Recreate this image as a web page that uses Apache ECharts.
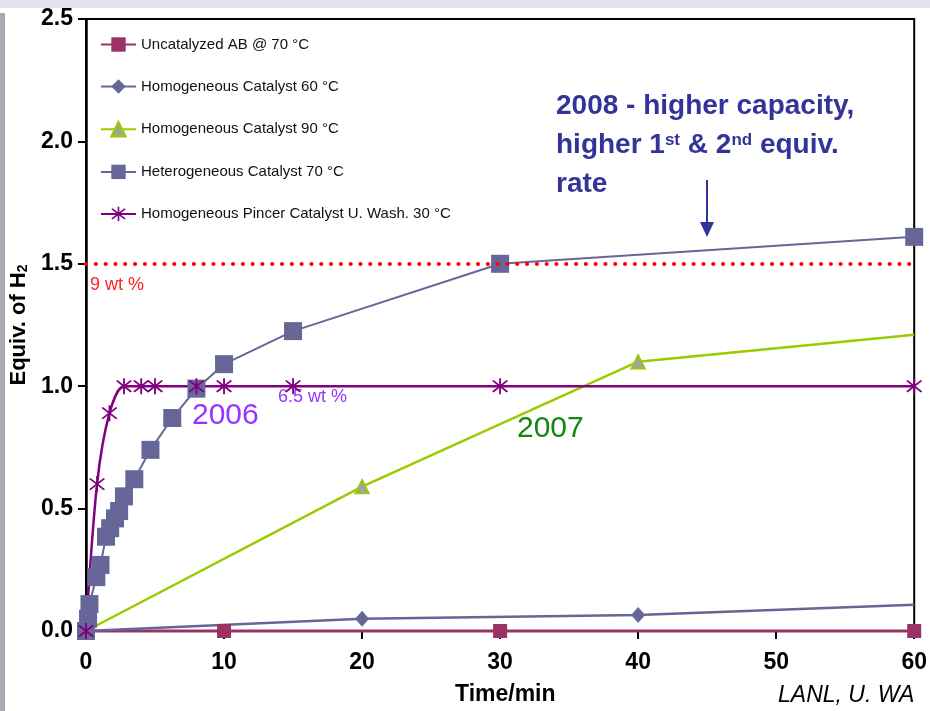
<!DOCTYPE html>
<html>
<head>
<meta charset="utf-8">
<script src="https://cdn.jsdelivr.net/npm/echarts@6/dist/echarts.min.js"></script>
<style>
html,body{margin:0;padding:0;background:#fff;}
#chart{width:930px;height:711px;}
</style>
</head>
<body>
<div id="chart"></div>
<script>
// ---- data ----
const seriesNames = [
  'Uncatalyzed AB @ 70 °C',
  'Homogeneous Catalyst 60 °C',
  'Homogeneous Catalyst 90 °C',
  'Heterogeneous Catalyst 70 °C',
  'Homogeneous Pincer Catalyst U. Wash. 30 °C'
];
const uncatalyzed70 = [[0,0],[10,0],[30,0],[60,0]];
const homog60 = [[0,0],[20,0.05],[40,0.065],[60,0.107]];
const homog90 = [[0,0],[20,0.59],[40,1.10],[60,1.21]];
const hetero70 = [[0,0],[0.15,0.05],[0.25,0.11],[0.75,0.22],[1.05,0.27],[1.45,0.385],[1.75,0.42],[2.1,0.46],[2.4,0.49],[2.75,0.55],[3.5,0.62],[4.67,0.74],[6.25,0.87],[8.0,0.99],[10,1.09],[15,1.225],[30,1.50],[60,1.61]];
const pincer30 = [[0,0],[0.8,0.6],[1.7,0.89],[2.75,1.0],[4,1.0],[5,1.0],[8,1.0],[10,1.0],[15,1.0],[30,1.0],[60,1.0]];
const xTicks = [0,10,20,30,40,50,60];
const yTicks = [0,0.5,1.0,1.5,2.0,2.5];
const capacityLine9wt = 1.5;

const asterisk = 'path://M9.1 0L10.9 0L10.9 20L9.1 20Z M2.22 3.64L3.64 2.22L17.78 16.36L16.36 17.78Z M16.36 2.22L17.78 3.64L3.64 17.78L2.22 16.36Z';
const narrow = "'Liberation Sans Narrow','Arial Narrow','Liberation Sans',Arial,sans-serif";
const sans = "'Liberation Sans',Arial,sans-serif";

function hideLast(arr){
  return arr.map((p,i)=> i===arr.length-1 ? {value:p, symbolSize:0} : p);
}

const chart = echarts.init(document.getElementById('chart'));
const option = {
  backgroundColor:'#ffffff',
  animation:false,
  grid:{left:86, top:19, right:9, bottom:80, show:true, borderColor:'#000', borderWidth:2, backgroundColor:'transparent'},
  legend:{
    left:95, top:32, orient:'vertical', itemWidth:35, itemHeight:18, itemGap:27,
    textStyle:{fontFamily:narrow, fontSize:15, color:'#111'},
    data: seriesNames
  },
  xAxis:{
    type:'value', min:xTicks[0], max:xTicks[xTicks.length-1], interval:10,
    axisLine:{show:true, lineStyle:{color:'#000', width:2}},
    axisTick:{show:true, length:8, lineStyle:{color:'#000', width:2}},
    axisLabel:{margin:20, fontFamily:narrow, fontWeight:'bold', fontSize:23, color:'#000'},
    splitLine:{show:false}
  },
  yAxis:{
    type:'value', min:yTicks[0], max:yTicks[yTicks.length-1], interval:0.5,
    axisLine:{show:true, lineStyle:{color:'#000', width:2.5}},
    axisTick:{show:true, length:8, lineStyle:{color:'#000', width:2}},
    axisLabel:{margin:13, fontFamily:sans, fontWeight:'bold', fontSize:23, color:'#000', formatter:v=>v.toFixed(1)},
    splitLine:{show:false}
  },
  series:[
    {name:seriesNames[0], type:'line', data:uncatalyzed70, symbol:'rect', symbolSize:14, clip:false,
     itemStyle:{color:'#993366'}, lineStyle:{color:'#993366', width:3}},
    {name:seriesNames[1], type:'line', data:hideLast(homog60), symbol:'diamond', symbolSize:[14,16], clip:false,
     itemStyle:{color:'#666699'}, lineStyle:{color:'#666699', width:2.5}},
    {name:seriesNames[2], type:'line', data:hideLast(homog90), symbol:'triangle', symbolSize:14, clip:false,
     itemStyle:{color:'#a3a78a', borderColor:'#99cc00', borderWidth:1.5}, lineStyle:{color:'#99cc00', width:2.5}},
    {name:seriesNames[3], type:'line', data:hetero70, symbol:'rect', symbolSize:18, clip:false,
     itemStyle:{color:'#666699'}, lineStyle:{color:'#666699', width:2},
     markLine:{silent:true, symbol:'none', animation:false,
       label:{show:false},
       lineStyle:{color:'#ff0000', type:[0.1,9.7], cap:'round', width:4},
       data:[{yAxis:capacityLine9wt}]}},
    {name:seriesNames[4], type:'line', data:pincer30, symbol:asterisk, symbolSize:16, smooth:0.3, clip:false,
     itemStyle:{color:'#800080'}, lineStyle:{color:'#800080', width:2.5}}
  ],
  graphic:[
    {type:'rect', shape:{x:0,y:0,width:930,height:8}, style:{fill:'#e3e3ed'}, z:-10},
    {type:'rect', shape:{x:0,y:13,width:5,height:698}, style:{fill:'#a9a9b1'}, z:-10},
    {type:'text', x:19, y:325, rotation:Math.PI/2,
     style:{text:'{a|Equiv. of H}{b|2}', align:'center', verticalAlign:'middle',
       rich:{a:{fontFamily:sans, fontWeight:'bold', fontSize:22, fill:'#000'},
             b:{fontFamily:sans, fontWeight:'bold', fontSize:14, fill:'#000', verticalAlign:'bottom', padding:[9,0,0,0]}}}},
    {type:'text', left:455, top:683, style:{text:'Time/min', fontFamily:narrow, fontWeight:'bold', fontSize:23, fill:'#000'}},
    {type:'text', left:778, top:684, style:{text:'LANL, U. WA', fontFamily:sans, fontStyle:'italic', fontSize:23, fill:'#000'}},
    {type:'text', left:90, top:276, style:{text:'9 wt %', fontFamily:sans, fontSize:18, fill:'#ff2020'}},
    {type:'text', left:278, top:388, style:{text:'6.5 wt %', fontFamily:sans, fontSize:18, fill:'#9933ff'}},
    {type:'text', left:192, top:401, style:{text:'2006', fontFamily:sans, fontSize:30, fill:'#9933ff'}},
    {type:'text', left:517, top:414, style:{text:'2007', fontFamily:sans, fontSize:30, fill:'#118811'}},
    {type:'text', left:556, top:92, style:{
      text:'{b|2008 - higher capacity,}\n{b|higher 1}{s|st}{b| & 2}{s|nd}{b| equiv.}\n{b|rate}',
      rich:{
        b:{fontFamily:sans, fontWeight:'bold', fontSize:28, fill:'#333399', lineHeight:39},
        s:{fontFamily:sans, fontWeight:'bold', fontSize:17, fill:'#333399', lineHeight:17, verticalAlign:'top', padding:[6,0,0,0]}
      }}},
    {type:'line', shape:{x1:707,y1:180,x2:707,y2:226}, style:{stroke:'#333399', lineWidth:2}},
    {type:'polygon', shape:{points:[[700,222],[714,222],[707,237]]}, style:{fill:'#333399'}}
  ]
};
chart.setOption(option);
</script>
</body>
</html>
